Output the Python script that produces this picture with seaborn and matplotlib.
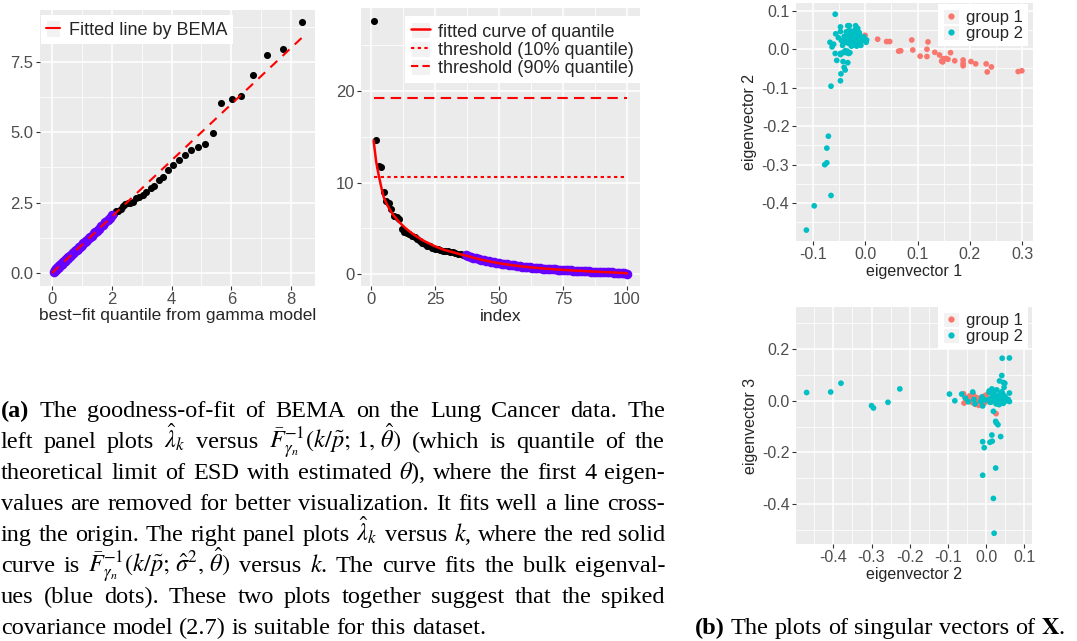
import numpy as np
import pandas as pd
import matplotlib
matplotlib.use("Agg")
import matplotlib.pyplot as plt
import seaborn as sns
from matplotlib.ticker import MultipleLocator, FormatStrFormatter
from matplotlib.lines import Line2D
from matplotlib.patches import Rectangle
from matplotlib.legend_handler import HandlerLine2D

# ---------------------------------------------------------------- data
# panel (a): eigenvalues lambda_k, k = 1..100, and gamma-model quantiles
eig_index = list(range(1, 101))
eigenvalues = [
    27.70, 14.60, 11.80, 11.70,
    8.91, 7.96, 7.76, 7.05, 6.30, 6.20, 6.03, 4.97, 4.57, 4.48,
    4.37, 4.18, 4.00, 3.85, 3.65, 3.41, 3.31, 3.10, 3.03, 2.88,
    2.77, 2.71, 2.66, 2.52, 2.50, 2.49, 2.45, 2.38, 2.28, 2.22,
    2.19, 2.10,
    2.05, 1.97, 1.90, 1.80, 1.72, 1.66, 1.58, 1.50, 1.46, 1.41,
    1.33, 1.29, 1.25, 1.17, 1.12, 1.10, 1.06, 1.00, 0.96, 0.94,
    0.91, 0.85, 0.82, 0.81, 0.78, 0.73, 0.70, 0.70, 0.67, 0.63,
    0.60, 0.59, 0.58, 0.56, 0.52, 0.50, 0.49, 0.48, 0.44, 0.42,
    0.42, 0.41, 0.38, 0.36, 0.35, 0.33, 0.32, 0.31, 0.28, 0.27,
    0.27, 0.26, 0.24, 0.22, 0.21, 0.20, 0.18, 0.17, 0.16, 0.15,
    0.13, 0.11, 0.09, 0.05,
]
gamma_quantiles = [
    14.60, 12.30, 10.80, 9.50,
    8.38, 7.74, 7.21, 6.74, 6.34, 6.01, 5.67, 5.40, 5.13, 4.89,
    4.66, 4.45, 4.26, 4.06, 3.89, 3.71, 3.58, 3.42, 3.31, 3.14,
    3.03, 2.92, 2.81, 2.70, 2.60, 2.53, 2.45, 2.38, 2.30, 2.22,
    2.14, 2.07,
    2.02, 1.94, 1.86, 1.78, 1.71, 1.64, 1.57, 1.51, 1.45, 1.39,
    1.34, 1.28, 1.23, 1.18, 1.13, 1.09, 1.05, 1.01, 0.97, 0.93,
    0.90, 0.86, 0.83, 0.80, 0.77, 0.74, 0.71, 0.69, 0.66, 0.64,
    0.61, 0.59, 0.57, 0.55, 0.53, 0.51, 0.49, 0.47, 0.45, 0.43,
    0.42, 0.40, 0.38, 0.37, 0.35, 0.34, 0.32, 0.31, 0.29, 0.28,
    0.27, 0.25, 0.24, 0.23, 0.21, 0.20, 0.19, 0.18, 0.16, 0.15,
    0.13, 0.12, 0.10, 0.07,
]
n_removed = 4          # first eigenvalues removed in the left panel
n_spikes = 36          # eigenvalues drawn in black (the rest = bulk)
bema_slope = 1.0       # fitted line by BEMA
threshold_10 = 10.63
threshold_90 = 19.27

# panel (b): singular vectors (eigenvector 1, 2, 3) for both groups
g1_ev1 = [0.000, 0.024, 0.041, 0.047, 0.064, 0.068, 0.089, 0.091, 0.105, 0.118,
          0.120, 0.118, 0.133, 0.142, 0.146, 0.149, 0.154, 0.158, 0.163, 0.171,
          0.187, 0.187, 0.187, 0.202, 0.211, 0.231, 0.233, 0.241, 0.292, 0.299,
          0.148]
g1_ev2 = [0.036, 0.026, 0.020, 0.020, -0.005, -0.004, 0.024, -0.002, -0.018, 0.000,
          0.019, -0.019, -0.008, -0.015, -0.031, -0.025, -0.024, -0.026, -0.009, -0.030,
          -0.028, -0.037, -0.043, -0.032, -0.038, -0.038, -0.059, -0.046, -0.058, -0.056,
          -0.033]
g1_ev3 = [0.012, -0.050, 0.005, -0.002, 0.018, -0.008, 0.010, 0.000, -0.010, 0.022,
          0.015, -0.018, 0.008, 0.004, -0.006, -0.009, 0.012, 0.002, -0.004, 0.006,
          -0.014, 0.001, 0.019, -0.010, -0.005, 0.010, 0.027, 0.008, -0.009, 0.014,
          0.024]

g2_ev1 = [-0.112, -0.097, -0.065, -0.077, -0.073, -0.073, -0.070, -0.065, -0.047, -0.046,
          -0.057, -0.038, -0.040, -0.033, -0.042, -0.054, -0.057, -0.047, -0.042, -0.038,
          -0.031, -0.047, -0.063, -0.067, -0.060,
          -0.028, -0.018, -0.022, -0.035, -0.015, -0.030, -0.025, -0.020, -0.032, -0.012,
          -0.027, -0.019, -0.036, -0.024, -0.016, -0.034, -0.021, -0.029, -0.023, -0.026,
          -0.033, -0.020,
          -0.056, -0.047, -0.036, -0.030, -0.047, -0.019, -0.025, -0.017, -0.013, -0.007,
          0.002, -0.033, -0.028, -0.022, -0.015, -0.010, -0.038, -0.031, -0.024, -0.018,
          -0.012, -0.005, -0.027, -0.020, -0.034, -0.040, -0.045, -0.051, -0.016, -0.008,
          0.003, -0.026, -0.021, -0.014, -0.029, -0.011, -0.002, -0.036, -0.043, -0.009]
g2_ev2 = [-0.470, -0.407, -0.380, -0.300, -0.295, -0.257, -0.226, -0.096, -0.082, -0.064,
          0.091, -0.054, -0.047, -0.035, -0.032, -0.029, -0.011, -0.011, -0.009, -0.004,
          -0.011, -0.014, 0.006, 0.018, 0.013,
          0.042, 0.061, 0.041, 0.035, 0.045, 0.049, 0.019, 0.025, 0.027, 0.031,
          0.015, 0.038, -0.009, 0.010, 0.016, -0.005, 0.025, -0.009, 0.019, 0.021,
          0.061, 0.030,
          0.040, 0.046, 0.045, 0.061, 0.058, 0.050, 0.036, 0.028, 0.041, 0.026,
          0.018, 0.030, 0.022, 0.033, 0.020, 0.035, 0.026, 0.015, 0.027, 0.038,
          0.015, 0.022, 0.044, 0.012, 0.038, 0.033, 0.022, 0.030, 0.008, 0.010,
          0.024, 0.008, 0.047, 0.054, 0.034, 0.043, 0.032, 0.018, 0.010, 0.028]
g2_ev3 = [0.032, 0.034, 0.068, -0.019, -0.028, -0.006, 0.046, 0.026, 0.000, 0.026,
          0.322, 0.010, -0.004, 0.034, 0.005, -0.012, 0.008, 0.015, -0.020, 0.003,
          0.012, -0.002, 0.004, 0.020, -0.005,
          0.165, 0.166, 0.098, 0.077, 0.071, 0.068, -0.041, -0.080, -0.086, -0.093,
          -0.133, -0.139, -0.159, -0.161, -0.157, -0.182, -0.261, -0.289, -0.379, -0.514,
          -0.003, 0.015,
          0.012, 0.020, -0.010, 0.030, 0.005, 0.015, 0.024, 0.002, 0.035, -0.012,
          0.008, 0.016, 0.040, -0.004, 0.022, 0.006, 0.001, 0.028, 0.011, 0.018,
          0.046, 0.014, 0.003, 0.009, 0.026, -0.007, 0.018, 0.010, 0.032, -0.006,
          0.020, 0.038, 0.052, 0.000, -0.015, 0.028, 0.009, 0.021, 0.004, 0.042]
group_labels = ["group 1", "group 2"]
group_colors = ["#F8766D", "#00BFC4"]

# ---------------------------------------------------------------- style
sns.set_theme(style="darkgrid", rc={
    "axes.facecolor": "#EBEBEB", "grid.color": "white",
    "axes.edgecolor": "none", "xtick.bottom": True, "ytick.left": True,
})
plt.rcParams["font.family"] = ["Liberation Sans", "DejaVu Sans"]
plt.rcParams["mathtext.fontset"] = "stix"
plt.rcParams["axes.unicode_minus"] = True

W, H = 1077, 641
fig = plt.figure(figsize=(W / 100, H / 100), dpi=100)


def px_axes(l, t, r, b):
    return fig.add_axes([l / W, 1 - b / H, (r - l) / W, (b - t) / H])


def gg_lim(vals, mult=0.05):
    lo, hi = min(vals), max(vals)
    d = (hi - lo) * mult
    return lo - d, hi + d


def style_axes(ax, tick_size, major_x, major_y, fmt_x, fmt_y):
    ax.xaxis.set_major_locator(MultipleLocator(major_x))
    ax.xaxis.set_minor_locator(MultipleLocator(major_x / 2))
    ax.yaxis.set_major_locator(MultipleLocator(major_y))
    ax.yaxis.set_minor_locator(MultipleLocator(major_y / 2))
    ax.xaxis.set_major_formatter(FormatStrFormatter(fmt_x))
    ax.yaxis.set_major_formatter(FormatStrFormatter(fmt_y))
    ax.grid(which="major", color="white", lw=1.1)
    ax.grid(which="minor", color="white", lw=0.55)
    ax.set_axisbelow(True)
    ax.tick_params(which="major", length=3, width=0.8, color="#333333",
                   labelcolor="#4D4D4D", labelsize=tick_size, pad=1.5)
    ax.tick_params(which="minor", length=0)
    for s in ax.spines.values():
        s.set_visible(False)


class KeyHandler(HandlerLine2D):
    """ggplot-like legend key: light grey square behind the glyph."""
    def create_artists(self, legend, orig_handle, xdescent, ydescent, width,
                       height, fontsize, trans):
        arts = super().create_artists(legend, orig_handle, xdescent, ydescent,
                                      width, height, fontsize, trans)
        bg = Rectangle((-xdescent, -ydescent), width, height, facecolor="#F2F2F2",
                       edgecolor="white", lw=0.8, transform=trans)
        return [bg] + list(arts)


def legend_box(ax, handles, labels, anchor_px, loc, size, **kw):
    leg = ax.legend(handles, labels, loc=loc,
                    bbox_to_anchor=(anchor_px[0] / W, 1 - anchor_px[1] / H),
                    bbox_transform=fig.transFigure, frameon=True, fancybox=False,
                    facecolor="white", edgecolor="none", framealpha=1,
                    borderaxespad=0, fontsize=size, numpoints=1,
                    handler_map={Line2D: KeyHandler()}, **kw)
    leg.set_zorder(10)
    return leg


# ---------------------------------------------------------------- panel a-left
df = pd.DataFrame({"k": eig_index, "lam": eigenvalues, "q": gamma_quantiles})
df["kind"] = np.where(df["k"] <= n_spikes, "spike", "bulk")
left = df[df["k"] > n_removed]
bulk_color = "#6600FF"

ax1 = px_axes(39.5, 9.8, 314.9, 285.5)
sns.scatterplot(data=left[left.kind == "spike"], x="q", y="lam", ax=ax1,
                color="black", s=26, linewidth=0, zorder=3)
sns.scatterplot(data=left[left.kind == "bulk"], x="q", y="lam", ax=ax1,
                color=bulk_color, s=48, linewidth=0, zorder=3)
fit_x = np.array([0.0, left["q"].max()])
sns.lineplot(x=fit_x, y=bema_slope * fit_x, ax=ax1, color="red", lw=1.5,
             dashes=False, zorder=4)
ax1.lines[-1].set_dashes([4.5, 3.5])
ax1.set_xlim(gg_lim(list(left["q"]) + [0.0]))
ax1.set_ylim(gg_lim(list(left["lam"]) + [0.0]))
style_axes(ax1, 12, 2, 2.5, "%d", "%.1f")
ax1.set_xlabel("best\u2212fit quantile from gamma model", fontsize=12.5, labelpad=1)
ax1.set_ylabel("")
legend_box(ax1, [Line2D([], [], color="red", lw=1.5)], ["Fitted line by BEMA"],
           (41, 15), "upper left", 13, handlelength=0.75, handleheight=1.0,
           handletextpad=0.5, borderpad=0.3)

# ---------------------------------------------------------------- panel a-right
ax2 = px_axes(360.9, 7.9, 639.7, 286.2)
sns.scatterplot(data=df[df.kind == "spike"], x="k", y="lam", ax=ax2,
                color="black", s=26, linewidth=0, zorder=3)
sns.scatterplot(data=df[df.kind == "bulk"], x="k", y="lam", ax=ax2,
                color=bulk_color, s=48, linewidth=0, zorder=3)
sns.lineplot(data=df, x="k", y="q", ax=ax2, color="red", lw=1.8, zorder=4)
kmin, kmax = min(eig_index), max(eig_index)
ax2.hlines([threshold_10], kmin, kmax, colors="red", lw=1.5,
           linestyles=(0, (1.6, 1.6)), zorder=4)
ax2.hlines([threshold_90], kmin, kmax, colors="red", lw=1.5,
           linestyles=(0, (5, 3)), zorder=4)
ax2.set_xlim(gg_lim(eig_index))
ax2.set_ylim(gg_lim(eigenvalues + gamma_quantiles))
style_axes(ax2, 12, 25, 10, "%d", "%d")
ax2.set_xlabel("index", fontsize=12.5, labelpad=1)
ax2.set_ylabel("")
h2 = [Line2D([], [], color="red", lw=1.8),
      Line2D([], [], color="red", lw=1.5, linestyle=(0, (1.6, 1.6))),
      Line2D([], [], color="red", lw=1.5, linestyle=(0, (3.5, 2)))]
legend_box(ax2, h2, ["fitted curve of quantile", "threshold (10% quantile)",
                     "threshold (90% quantile)"],
           (639.7, 16), "upper right", 13, handlelength=1.05, handleheight=1.0,
           handletextpad=0.4, labelspacing=0.0, borderpad=0.35)

# ---------------------------------------------------------------- panel b
sv = pd.DataFrame({
    "ev1": g1_ev1 + g2_ev1,
    "ev2": g1_ev2 + g2_ev2,
    "ev3": g1_ev3 + g2_ev3,
    "group": [group_labels[0]] * len(g1_ev1) + [group_labels[1]] * len(g2_ev1),
})
palette = dict(zip(group_labels, group_colors))


def scatter_panel(ax, xcol, ycol, xlabel, ylabel, leg_anchor):
    sns.scatterplot(data=sv, x=xcol, y=ycol, hue="group", palette=palette,
                    hue_order=group_labels, ax=ax, s=17, linewidth=0,
                    legend=False, zorder=3)
    ax.set_xlim(gg_lim(sv[xcol]))
    ax.set_ylim(gg_lim(sv[ycol]))
    ax.set_xlabel(xlabel, fontsize=11.5, labelpad=1)
    ax.set_ylabel(ylabel, fontsize=11.5, labelpad=3)
    hs = [Line2D([], [], marker="o", ls="", color=c, markersize=4.5,
                 markeredgewidth=0) for c in group_colors]
    legend_box(ax, hs, group_labels, leg_anchor, "upper right", 12,
               handlelength=1.0, handleheight=1.0, handletextpad=0.4,
               labelspacing=0.0, borderpad=0.3)


ax3 = px_axes(795.6, 3.4, 1032.6, 240.9)
scatter_panel(ax3, "ev1", "ev2", "eigenvector 1", "eigenvector 2", (1028, 4))
style_axes(ax3, 11.5, 0.1, 0.1, "%.1f", "%.1f")

ax4 = px_axes(795.9, 307, 1031.6, 544)
scatter_panel(ax4, "ev2", "ev3", "eigenvector 2", "eigenvector 3", (1028, 307))
style_axes(ax4, 11.5, 0.1, 0.2, "%.1f", "%.1f")

# ---------------------------------------------------------------- captions
renderer = fig.canvas.get_renderer()
serif = ["Liberation Serif", "DejaVu Serif"]

caption_a = [
    ["**(a)", "The", "goodness-of-fit", "of", "BEMA", "on", "the", "Lung", "Cancer", "data.", "The"],
    ["left", "panel", "plots", r"$\hat{\lambda}_k$", "versus",
     r"$\bar{F}_{\gamma_n}^{-1}(k/\tilde{p};\,1,\,\hat{\theta})$", "(which", "is",
     "quantile", "of", "the"],
    ["theoretical", "limit", "of", "ESD", "with", "estimated", r"$\theta$),", "where",
     "the", "first", "4", "eigen-"],
    ["values", "are", "removed", "for", "better", "visualization.", "It", "fits", "well",
     "a", "line", "cross-"],
    ["ing", "the", "origin.", "The", "right", "panel", "plots", r"$\hat{\lambda}_k$",
     "versus", r"$k$,", "where", "the", "red", "solid"],
    ["curve", "is", r"$\bar{F}_{\gamma_n}^{-1}(k/\tilde{p};\,\hat{\sigma}^2,\,\hat{\theta})$",
     "versus", r"$k$.", "The", "curve", "fits", "the", "bulk", "eigenval-"],
    ["ues", "(blue", "dots).", "These", "two", "plots", "together", "suggest", "that",
     "the", "spiked"],
    ["covariance", "model", "(2.7)", "is", "suitable", "for", "this", "dataset."],
]
caption_b = ["**(b)", "The", "plots", "of", "singular", "vectors", "of", r"$\mathbf{X}$."]


def make_words(tokens, size):
    out = []
    for tok in tokens:
        weight = "normal"
        if tok.startswith("**"):
            tok, weight = tok[2:], "bold"
        t = fig.text(0, 0, tok, fontsize=size, family=serif, weight=weight,
                     ha="left", va="baseline", color="black")
        out.append(t)
    return out


def widths(texts):
    return [t.get_window_extent(renderer).width for t in texts]


# choose a font size so that the densest line fits the text width
x_left, x_right = 1.0, 665.0
base = 17.5
need = 0
for toks in caption_a:
    ts = make_words(toks, base)
    em = base * 100 / 72
    need = max(need, sum(widths(ts)) + 0.16 * em * (len(ts) - 1))
    for t in ts:
        t.remove()
size = min(base, base * (x_right - x_left) / need)
em = size * 100 / 72

baseline0, step = 417.0, 31.0
for i, toks in enumerate(caption_a):
    ts = make_words(toks, size)
    ws = widths(ts)
    last = i == len(caption_a) - 1
    gap = 0.25 * em if last else ((x_right - x_left) - sum(ws)) / (len(ts) - 1)
    x = x_left
    yb = baseline0 + i * step
    for t, w in zip(ts, ws):
        t.set_position((x / W, 1 - yb / H))
        x += w + gap

ts = make_words(caption_b, size)
ws = widths(ts)
x = 695.0
for t, w in zip(ts, ws):
    t.set_position((x / W, 1 - (baseline0 + 7 * step) / H))
    x += w + 0.25 * em

fig.savefig("out.png", dpi=100)
